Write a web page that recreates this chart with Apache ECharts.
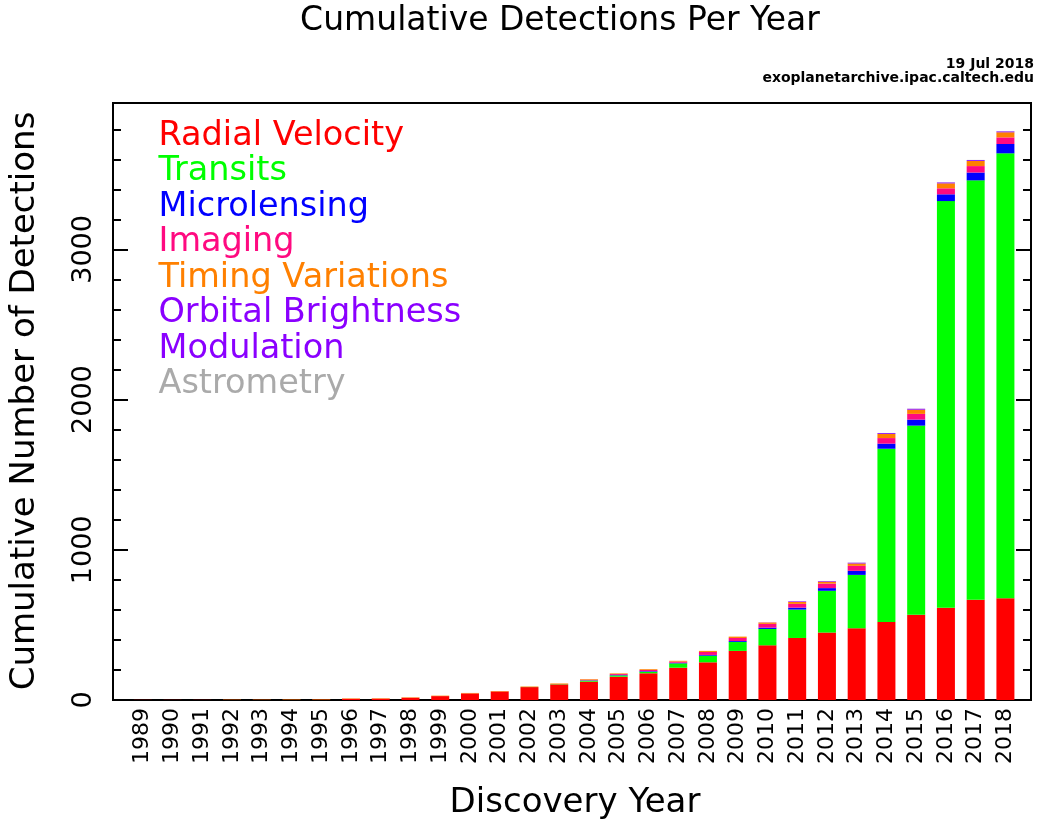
<!DOCTYPE html>
<html>
<head>
<meta charset="utf-8">
<script src="https://cdn.jsdelivr.net/npm/echarts@6/dist/echarts.min.js"></script>
<style>
  html, body { margin: 0; padding: 0; background: #fff; }
  #chart { width: 1039px; height: 823px; }
</style>
</head>
<body>
<div id="chart"></div>
<script>
// ---- Data (cumulative detections by discovery year) ----
const years = ['1989','1990','1991','1992','1993','1994','1995','1996','1997','1998',
               '1999','2000','2001','2002','2003','2004','2005','2006','2007','2008',
               '2009','2010','2011','2012','2013','2014','2015','2016','2017','2018'];

const radialVelocity = [1,1,1,1,1,1,2,8,9,15, 26,44,57,86,104,122,155,178,215,251, 327,364,413,449,478,520,567,615,667,678];
const transits       = [0,0,0,0,0,0,0,0,0,0, 0,0,0,1,2,7,9,10,29,44, 60,109,189,278,355,1153,1260,2707,2793,2962];
const microlensing   = [0,0,0,0,0,0,0,0,0,0, 0,0,0,0,0,2,3,4,4,5, 6,9,13,18,27,34,40,45,52,62];
const imaging        = [0,0,0,0,0,0,0,0,0,0, 0,0,0,0,0,4,6,8,8,20, 20,25,25,30,33,37,38,40,43,44];
const timingVar      = [0,0,0,2,2,3,3,3,3,3, 3,3,3,3,4,4,4,5,5,7, 9,9,13,13,16,27,28,33,34,34];
const orbitalBright  = [0,0,0,0,0,0,0,0,0,0, 0,0,0,0,0,0,0,0,0,0, 0,1,4,4,5,6,6,6,6,6];
const astrometry     = [0,0,0,0,0,0,0,0,0,0, 0,0,0,0,0,0,0,0,0,0, 0,0,0,0,1,1,1,1,1,1];

const seriesNames  = ['Radial Velocity','Transits','Microlensing','Imaging','Timing Variations','Orbital Brightness Modulation','Astrometry'];
const seriesColors = ['#ff0000','#00ff00','#0000ff','#ff0a80','#ff8000','#8a00ff','#aaaaaa'];
const legendLines  = ['Radial Velocity','Transits','Microlensing','Imaging','Timing Variations','Orbital Brightness','Modulation','Astrometry'];
const legendColors = ['#ff0000','#00ff00','#0000ff','#ff0a80','#ff8000','#8a00ff','#8a00ff','#aaaaaa'];
const yTickLabels  = ['0','1000','2000','3000'];

const titleText = 'Cumulative Detections Per Year';
const xTitle = 'Discovery Year';
const yTitle = 'Cumulative Number of Detections';
const dateText = '19 Jul 2018';
const sourceText = 'exoplanetarchive.ipac.caltech.edu';

const seriesValues = [radialVelocity, transits, microlensing, imaging, timingVar, orbitalBright, astrometry];

const FONT = 'DejaVu Sans';
const YMAX = 3975;

function yAxisDef(position, interval, tickLen, withLabels) {
  return {
    type: 'value', position: position, min: 0, max: YMAX, interval: interval,
    axisLine: { show: false },
    splitLine: { show: false },
    axisTick: { show: true, inside: true, length: tickLen, lineStyle: { color: '#000', width: 2 } },
    axisLabel: withLabels ? {
      show: true, rotate: 90, margin: 16, fontSize: 27, fontFamily: FONT, color: '#000',
      showMaxLabel: false,
      formatter: function (v) { const i = yTickLabels.indexOf(String(v)); return i >= 0 ? yTickLabels[i] : ''; }
    } : { show: false }
  };
}

const chart = echarts.init(document.getElementById('chart'), null, { renderer: 'canvas' });

const graphics = [
  { type: 'text', x: 560, y: 21.5, silent: true,
    style: { text: titleText, fill: '#000', fontSize: 33, fontFamily: FONT,
             align: 'center', verticalAlign: 'middle', textAlign: 'center', textVerticalAlign: 'middle' } },
  { type: 'text', x: 1034, y: 64.5, silent: true,
    style: { text: dateText, fill: '#000', fontSize: 14, fontWeight: 'bold', fontFamily: FONT,
             align: 'right', verticalAlign: 'middle', textAlign: 'right', textVerticalAlign: 'middle' } },
  { type: 'text', x: 1034, y: 78, silent: true,
    style: { text: sourceText, fill: '#000', fontSize: 14, fontWeight: 'bold', fontFamily: FONT,
             align: 'right', verticalAlign: 'middle', textAlign: 'right', textVerticalAlign: 'middle' } },
  { type: 'text', x: 575, y: 803, silent: true,
    style: { text: xTitle, fill: '#000', fontSize: 34, fontFamily: FONT,
             align: 'center', verticalAlign: 'middle', textAlign: 'center', textVerticalAlign: 'middle' } },
  { type: 'text', x: 25, y: 401, rotation: Math.PI / 2, silent: true,
    style: { text: yTitle, fill: '#000', fontSize: 34, fontFamily: FONT,
             align: 'center', verticalAlign: 'middle', textAlign: 'center', textVerticalAlign: 'middle' } }
];
legendLines.forEach(function (t, i) {
  graphics.push({ type: 'text', x: 158.5, y: 136 + i * 35.5, silent: true,
    style: { text: t, fill: legendColors[i], fontSize: 33.5, fontFamily: FONT,
             align: 'left', verticalAlign: 'middle', textAlign: 'left', textVerticalAlign: 'middle' } });
});

const option = {
  animation: false,
  backgroundColor: '#fff',
  grid: { left: 113, right: 8, top: 103, bottom: 123, show: true, borderColor: '#000', borderWidth: 2,
          backgroundColor: 'transparent', containLabel: false },
  xAxis: {
    type: 'value', min: 1988, max: 2018.86, interval: 1,
    axisLine: { show: false }, axisTick: { show: false }, splitLine: { show: false },
    axisLabel: {
      rotate: 90, margin: 8, fontSize: 22, fontFamily: FONT, color: '#000',
      showMinLabel: false, showMaxLabel: false,
      formatter: function (v) { const i = years.indexOf(String(v)); return i >= 0 ? years[i] : ''; }
    }
  },
  yAxis: [
    yAxisDef('left', 200, 8, false),
    yAxisDef('left', 1000, 15, true),
    yAxisDef('right', 200, 8, false),
    yAxisDef('right', 1000, 15, false)
  ],
  series: seriesNames.map(function (name, k) {
    return {
      name: name, type: 'bar', stack: 'total', xAxisIndex: 0, yAxisIndex: 0,
      barWidth: 18, silent: true,
      itemStyle: { color: seriesColors[k] },
      // value first so that stacking happens on the y dimension
      encode: { x: 1, y: 0 },
      data: years.map(function (y, i) { return [seriesValues[k][i], Number(y)]; })
    };
  }),
  graphic: graphics
};

chart.setOption(option);
</script>
</body>
</html>
